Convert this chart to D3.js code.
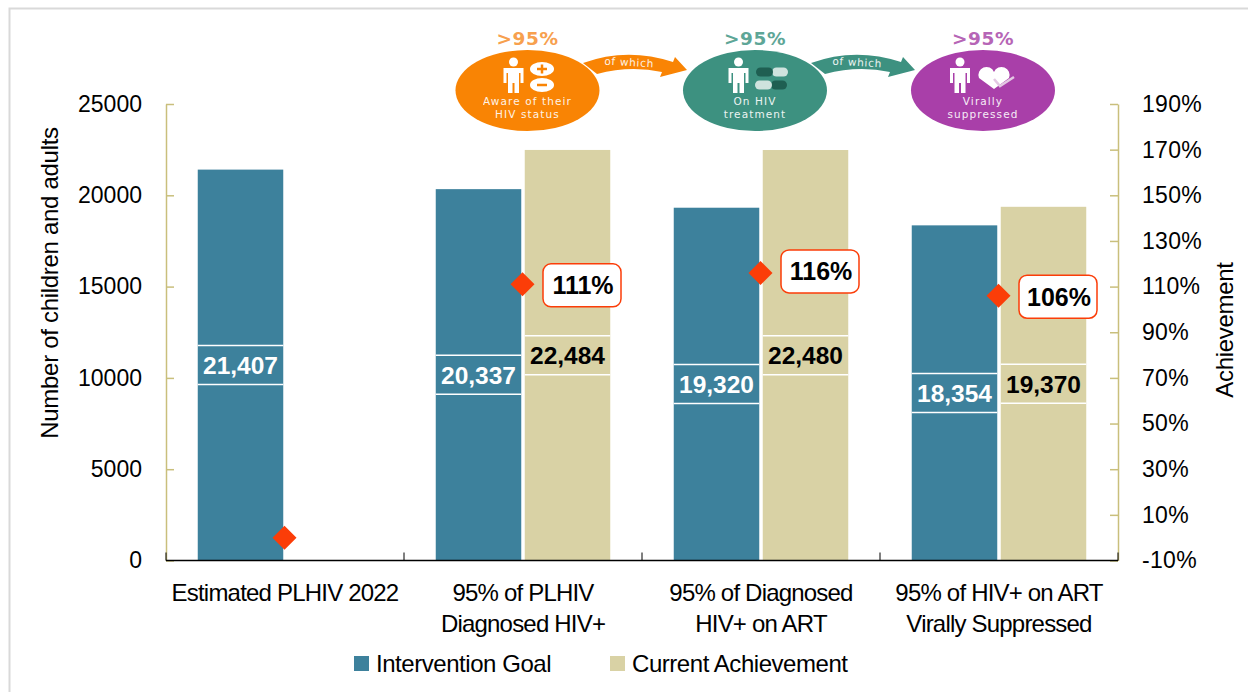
<!DOCTYPE html>
<html>
<head>
<meta charset="utf-8">
<script src="https://cdn.jsdelivr.net/npm/d3@7"></script>
<style>
  html, body { margin: 0; padding: 0; background: #fff; }
  svg { display: block; }
  text { font-family: "Liberation Sans", Arial, sans-serif; }
  .badge-text { font-family: "DejaVu Sans", sans-serif; }
</style>
</head>
<body>
<div id="chart"></div>
<script>
const categories = [
  ["Estimated PLHIV 2022"],
  ["95% of PLHIV", "Diagnosed HIV+"],
  ["95% of Diagnosed", "HIV+ on ART"],
  ["95% of HIV+ on ART", "Virally Suppressed"]
];
const goalValues = [21407, 20337, 19320, 18354];
const achievedValues = [null, 22484, 22480, 19370];
const achievementPct = [0, 111, 116, 106];
const leftTicks = [0, 5000, 10000, 15000, 20000, 25000];
const rightTicks = [-10, 10, 30, 50, 70, 90, 110, 130, 150, 170, 190];
const seriesNames = ["Intervention Goal", "Current Achievement"];

const width = 1248, height = 692;
const blue = "#3d819c", tan = "#d9d2a5", red = "#fb3d08", axisTan = "#c9bf7c";

const svg = d3.select("#chart").append("svg")
  .attr("width", width)
  .attr("height", height);

// outer frame of the pasted slide
svg.append("path")
  .attr("d", "M9.5,692V8.5H1248")
  .attr("fill", "none")
  .attr("stroke", "#d9d9d9")
  .attr("stroke-width", 2);

const plot = { left: 166, right: 1118, top: 104, bottom: 560.5 };

const x = d3.scaleBand()
  .domain(d3.range(categories.length))
  .range([plot.left, plot.right]);

const y = d3.scaleLinear().domain([0, 25000]).range([plot.bottom, plot.top]);
const yPct = d3.scaleLinear().domain([-10, 190]).range([plot.bottom, plot.top]);

const barWidth = 85.5, barGap = 3.5;

function goalX(i) {
  return x(i) + x.bandwidth() / 2 - barWidth - barGap / 2;
}
function achievedX(i) {
  return x(i) + x.bandwidth() / 2 + barGap / 2;
}

// bars
const bars = svg.append("g");
bars.selectAll("rect.goal")
  .data(goalValues)
  .join("rect")
  .attr("class", "goal")
  .attr("x", (d, i) => goalX(i))
  .attr("y", d => y(d))
  .attr("width", barWidth)
  .attr("height", d => y(0) - y(d))
  .attr("fill", blue);

bars.selectAll("rect.achieved")
  .data(achievedValues.map((v, i) => ({ v, i })).filter(d => d.v !== null))
  .join("rect")
  .attr("class", "achieved")
  .attr("x", d => achievedX(d.i))
  .attr("y", d => y(d.v))
  .attr("width", barWidth)
  .attr("height", d => y(0) - y(d.v))
  .attr("fill", tan);

// left axis
const leftAxis = svg.append("g")
  .attr("transform", `translate(${plot.left},0)`)
  .call(d3.axisLeft(y).tickValues(leftTicks).tickFormat(d3.format("d")).tickSize(0).tickPadding(24));
leftAxis.select(".domain").attr("stroke", axisTan).attr("stroke-width", 1.5);
leftAxis.selectAll(".tick line")
  .attr("x2", 8).attr("stroke", axisTan).attr("stroke-width", 1.5);
leftAxis.selectAll("text").attr("font-size", 23).attr("fill", "#000");

// right axis
const rightAxis = svg.append("g")
  .attr("transform", `translate(${plot.right},0)`)
  .call(d3.axisRight(yPct).tickValues(rightTicks).tickFormat(d => d + "%").tickSize(0).tickPadding(24));
rightAxis.select(".domain").attr("stroke", axisTan).attr("stroke-width", 1.5);
rightAxis.selectAll(".tick line")
  .attr("x2", -8).attr("stroke", axisTan).attr("stroke-width", 1.5);
rightAxis.selectAll("text").attr("font-size", 23).attr("fill", "#000").attr("letter-spacing", 0.3);

// category axis
const catAxis = svg.append("g")
  .attr("transform", `translate(0,${plot.bottom})`);
catAxis.append("line")
  .attr("x1", plot.left).attr("x2", plot.right)
  .attr("stroke", "#000").attr("stroke-width", 1.5);
catAxis.selectAll("line.tick")
  .data(d3.range(categories.length + 1))
  .join("line")
  .attr("class", "tick")
  .attr("x1", i => plot.left + i * x.bandwidth())
  .attr("x2", i => plot.left + i * x.bandwidth())
  .attr("y1", -8).attr("y2", 0)
  .attr("stroke", "#000");

categories.forEach((lines, i) => {
  lines.forEach((line, j) => {
    svg.append("text")
      .attr("x", x(i) + x.bandwidth() / 2)
      .attr("y", 601 + j * 31)
      .attr("text-anchor", "middle")
      .attr("font-size", 24)
      .attr("letter-spacing", -0.8)
      .text(line);
  });
});

// value labels sit in a strip at mid-height with white rules above and below
function barLabel(value, left, color) {
  const mid = y(value / 2);
  [-19.5, 19.5].forEach(dy => {
    svg.append("line")
      .attr("x1", left).attr("x2", left + barWidth)
      .attr("y1", mid + dy).attr("y2", mid + dy)
      .attr("stroke", "#fff").attr("stroke-width", 1.5);
  });
  svg.append("text")
    .attr("x", left + barWidth / 2)
    .attr("y", mid + 9)
    .attr("text-anchor", "middle")
    .attr("font-size", 24.5)
    .attr("font-weight", "bold")
    .attr("fill", color)
    .text(d3.format(",")(value));
}
goalValues.forEach((v, i) => barLabel(v, goalX(i), "#fff"));
achievedValues.forEach((v, i) => { if (v !== null) barLabel(v, achievedX(i), "#000"); });

// achievement markers
const diamond = d3.symbol().type(d3.symbolSquare).size(288);
svg.selectAll("path.marker")
  .data(achievementPct)
  .join("path")
  .attr("class", "marker")
  .attr("d", diamond)
  .attr("transform", (d, i) => `translate(${x(i) + x.bandwidth() / 2 - 0.5},${yPct(d)}) rotate(45)`)
  .attr("fill", red);

// callouts, skip the first point
achievementPct.forEach((d, i) => {
  if (i === 0) return;
  const left = x(i) + x.bandwidth() / 2 + 20;
  const nudge = i === 2 ? -1.5 : 1;
  const g = svg.append("g").attr("transform", `translate(${left},${yPct(d) + nudge})`);
  g.append("rect")
    .attr("x", 0).attr("y", -21.5)
    .attr("width", 78).attr("height", 43)
    .attr("rx", 8)
    .attr("fill", "#fff")
    .attr("stroke", red)
    .attr("stroke-width", 1.5);
  g.append("text")
    .attr("x", 40).attr("y", 9)
    .attr("text-anchor", "middle")
    .attr("font-size", 25)
    .attr("font-weight", "bold")
    .text(d + "%");
});

// axis titles
svg.append("text")
  .attr("transform", "translate(58,283) rotate(-90)")
  .attr("text-anchor", "middle")
  .attr("font-size", 24)
  .attr("letter-spacing", -0.3)
  .text("Number of children and adults");
svg.append("text")
  .attr("transform", "translate(1233,330) rotate(-90)")
  .attr("text-anchor", "middle")
  .attr("font-size", 24)
  .attr("letter-spacing", -0.3)
  .text("Achievement");

// legend
[[354, blue], [610, tan]].forEach(([lx, color], i) => {
  svg.append("rect")
    .attr("x", lx).attr("y", 656)
    .attr("width", 15).attr("height", 15)
    .attr("fill", color);
  svg.append("text")
    .attr("x", lx + 22).attr("y", 672)
    .attr("font-size", 24)
    .attr("letter-spacing", -0.45)
    .text(seriesNames[i]);
});

// 95-95-95 graphic above the plot
const badges = [
  { cx: 527.5, person: 513.5, color: "#f98404", title: "#f7a04e", lines: ["Aware of their", "HIV status"] },
  { cx: 755, person: 738.5, color: "#3d9180", title: "#5ea697", lines: ["On HIV", "treatment"] },
  { cx: 983, person: 960, color: "#a93fa9", title: "#b665b6", lines: ["Virally", "suppressed"] }
];

function person(g, px) {
  g.append("circle").attr("cx", px).attr("cy", 62).attr("r", 4.5).attr("fill", "#fff");
  g.append("path")
    .attr("d", `M${px - 10},${68}h20v15h-3v-10h-1.5v20h-4.5v-10h-2v10h-4.5v-20h-1.5v10h-3z`)
    .attr("fill", "#fff");
}

badges.forEach((b, i) => {
  const g = svg.append("g");
  g.append("ellipse")
    .attr("cx", b.cx).attr("cy", 90.5).attr("rx", 72).attr("ry", 40.5)
    .attr("fill", b.color);
  g.append("text")
    .attr("class", "badge-text")
    .attr("x", b.cx).attr("y", 45)
    .attr("text-anchor", "middle")
    .attr("font-size", 18.5)
    .attr("font-weight", "bold")
    .attr("letter-spacing", 0.6)
    .attr("fill", b.title)
    .text(">95%");
  person(g, b.person);
  b.lines.forEach((line, j) => {
    g.append("text")
      .attr("class", "badge-text")
      .attr("x", b.cx).attr("y", 105 + j * 12.5)
      .attr("text-anchor", "middle")
      .attr("font-size", 10.5)
      .attr("letter-spacing", 1.1)
      .attr("fill", "#fff")
      .attr("opacity", 0.9)
      .text(line);
  });
  if (i < 2) {
    const dx = i * 228;
    g.append("path")
      .attr("d", `M${583 + dx},63Q${627 + dx},47 ${673 + dx},62L${675 + dx},57L${687 + dx},70L${660 + dx},77L${662 + dx},72Q${630 + dx},65 ${597 + dx},74z`)
      .attr("fill", b.color);
    g.append("text")
      .attr("class", "badge-text")
      .attr("transform", `translate(${629 + dx},66) rotate(3)`)
      .attr("text-anchor", "middle")
      .attr("font-size", 10.5)
      .attr("letter-spacing", 0.7)
      .attr("fill", "#fff")
      .attr("opacity", 0.9)
      .text("of which");
  }
});

// small icons beside the figures
const g0 = svg.append("g");
g0.append("ellipse").attr("cx", 542).attr("cy", 69).attr("rx", 12).attr("ry", 7).attr("fill", "#fff");
g0.append("ellipse").attr("cx", 542).attr("cy", 85).attr("rx", 12).attr("ry", 7).attr("fill", "#fff");
g0.append("path").attr("d", "M537,69h10M542,64.5v9M537,85h10").attr("stroke", "#f98404").attr("stroke-width", 2.5);

const g1 = svg.append("g");
[[772, 72, "#1f5f52", "#cfe3de"], [771, 85, "#cfe3de", "#1f5f52"]].forEach(([px, py, c1, c2]) => {
  g1.append("rect").attr("x", px).attr("y", py - 4.5).attr("width", 16).attr("height", 9).attr("rx", 4.5).attr("fill", c2);
  g1.append("rect").attr("x", px - 16).attr("y", py - 4.5).attr("width", 17).attr("height", 9).attr("rx", 4.5).attr("fill", c1);
});

const g2 = svg.append("g");
g2.append("path")
  .attr("d", "M994,89 l-15,-11 a6.5,6.5 0 0 1 15,-6 a6.5,6.5 0 0 1 15,6z")
  .attr("fill", "#fff");
g2.append("path")
  .attr("d", "M994,79l6,7l14,-9")
  .attr("fill", "none").attr("stroke", "#e3c8e3").attr("stroke-width", 2.5);
</script>
</body>
</html>
